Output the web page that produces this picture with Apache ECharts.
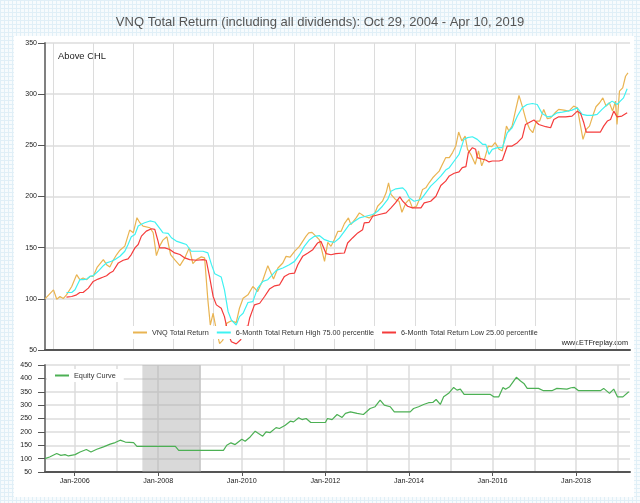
<!DOCTYPE html>
<html>
<head>
<meta charset="utf-8">
<title>VNQ Total Return</title>
<script src="https://cdn.jsdelivr.net/npm/echarts@6/dist/echarts.min.js"></script>
<style>
html, body { margin: 0; padding: 0; width: 640px; height: 503px; overflow: hidden; }
body {
    background-color: #f7fbfd;
    background-image:
        linear-gradient(#e0eff7 1px, transparent 1px),
        linear-gradient(90deg, #e0eff7 1px, transparent 1px);
    background-size: 4px 4px;
}
#panel { position: absolute; left: 14px; top: 36px; width: 620px; height: 461px; background: #fff; }
#chart { position: absolute; left: 0; top: 0; width: 640px; height: 503px; }
</style>
</head>
<body>
<div id="panel"></div>
<div id="chart"></div>
<script>
// x values are dates as decimal years
var topStart = 2004.83;      // Oct 29, 2004
var topEnd = 2019.27;        // Apr 10, 2019
var bottomStart = 2005.29;
var bottomEnd = 2019.29;

// vertical grid lines of the upper chart (about every 50 weeks)
var topGridYears = [2005.03, 2006.02, 2007.01, 2008.0, 2008.99, 2009.98, 2010.98,
    2011.97, 2012.96, 2013.96, 2014.95, 2015.94, 2016.94, 2017.93, 2018.92];
// lower chart: a grid line every January, a label every other year
var yearTicks = [2006, 2007, 2008, 2009, 2010, 2011, 2012, 2013, 2014, 2015,
    2016, 2017, 2018, 2019];
var labelYears = [2006, 2008, 2010, 2012, 2014, 2016, 2018];

// shaded period in the equity panel
var shadeFrom = 2007.62;
var shadeTo = 2009.02;

var vnqReturn = [
    [2004.83, 100], [2005.04, 108.8], [2005.12, 99.6], [2005.20, 102.3], [2005.28, 100.3],
    [2005.36, 103.9], [2005.49, 112.1], [2005.61, 123.6], [2005.69, 118.7], [2005.77, 120.3],
    [2005.86, 118.7], [2005.94, 121.9], [2006.02, 121.9], [2006.12, 131.1], [2006.27, 138.3],
    [2006.35, 133.4], [2006.43, 131.1], [2006.51, 137.4], [2006.60, 143.3], [2006.68, 147.5],
    [2006.80, 151.5], [2006.92, 167.2], [2007.01, 164.6], [2007.10, 179.3], [2007.17, 174.4],
    [2007.25, 171.1], [2007.42, 169.5], [2007.50, 164.6], [2007.58, 142.3], [2007.66, 151.5],
    [2007.74, 157.4], [2007.84, 160.6], [2007.93, 143.3], [2008.03, 138.3], [2008.16, 132.4],
    [2008.28, 140.0], [2008.39, 149.8], [2008.48, 134.4], [2008.57, 138.3], [2008.69, 141.0],
    [2008.77, 140.0], [2008.85, 99.0], [2008.91, 74.4], [2008.98, 85.9], [2009.06, 69.5],
    [2009.14, 56.3], [2009.22, 59.6], [2009.31, 76.0], [2009.43, 78.6], [2009.55, 76.7],
    [2009.63, 90.8], [2009.72, 100.6], [2009.84, 103.9], [2009.96, 112.1], [2010.08, 107.2],
    [2010.21, 118.7], [2010.33, 132.4], [2010.47, 119.3], [2010.58, 130.1], [2010.70, 135.0],
    [2010.78, 141.5], [2010.88, 140.8], [2010.99, 146.4], [2011.11, 151.3], [2011.19, 156.2],
    [2011.27, 161.1], [2011.34, 164.4], [2011.42, 165.0], [2011.52, 161.1], [2011.60, 157.8],
    [2011.73, 136.6], [2011.81, 155.2], [2011.89, 151.3], [2011.97, 157.8], [2012.06, 166.0],
    [2012.14, 166.0], [2012.22, 173.5], [2012.32, 179.1], [2012.38, 172.5], [2012.51, 179.1],
    [2012.59, 184.0], [2012.71, 180.7], [2012.83, 179.1], [2012.96, 182.4], [2013.04, 190.5],
    [2013.16, 195.4], [2013.25, 203.6], [2013.31, 213.4], [2013.37, 202.0], [2013.48, 197.1],
    [2013.57, 195.4], [2013.64, 184.6], [2013.74, 193.8], [2013.82, 197.1], [2013.90, 188.9],
    [2014.00, 190.5], [2014.07, 197.1], [2014.15, 206.9], [2014.23, 208.5], [2014.31, 213.4],
    [2014.40, 218.3], [2014.48, 221.6], [2014.56, 224.8], [2014.62, 229.7], [2014.72, 237.9],
    [2014.81, 238.0], [2014.89, 242.9], [2014.97, 249.3], [2015.04, 263.0], [2015.12, 254.2],
    [2015.20, 259.1], [2015.26, 246.1], [2015.34, 241.2], [2015.45, 231.5], [2015.53, 244.5],
    [2015.61, 229.9], [2015.69, 238.0], [2015.77, 249.3], [2015.86, 248.7], [2015.94, 252.6],
    [2016.04, 246.1], [2016.12, 244.5], [2016.22, 268.8], [2016.28, 263.9], [2016.36, 268.8],
    [2016.45, 285.1], [2016.53, 298.7], [2016.61, 288.3], [2016.71, 273.7], [2016.79, 266.2],
    [2016.87, 262.3], [2016.96, 273.7], [2017.04, 273.7], [2017.14, 285.1], [2017.23, 276.0],
    [2017.31, 276.9], [2017.42, 281.8], [2017.51, 285.1], [2017.64, 284.4], [2017.76, 283.4],
    [2017.88, 288.3], [2017.97, 286.7], [2018.05, 268.8], [2018.11, 255.8], [2018.19, 265.6],
    [2018.27, 268.8], [2018.35, 278.6], [2018.43, 287.7], [2018.52, 291.6], [2018.60, 296.4],
    [2018.68, 288.3], [2018.76, 291.6], [2018.84, 283.4], [2018.91, 293.2], [2018.95, 270.4],
    [2019.01, 302.9], [2019.09, 306.2], [2019.16, 317.5], [2019.22, 320.8]
];

var highBand = [
    [2005.36, 106.2], [2005.49, 106.2], [2005.57, 108.8], [2005.69, 118.7], [2005.77, 118.7],
    [2005.86, 119.3], [2005.94, 121.9], [2006.02, 122.6], [2006.14, 126.9], [2006.27, 132.4],
    [2006.35, 135.1], [2006.47, 136.7], [2006.55, 138.3], [2006.68, 141.6], [2006.80, 146.5],
    [2006.88, 153.1], [2006.96, 160.6], [2007.05, 162.9], [2007.13, 171.1], [2007.21, 172.8],
    [2007.29, 174.4], [2007.42, 176.1], [2007.54, 175.1], [2007.62, 171.1], [2007.74, 164.6],
    [2007.87, 163.9], [2007.95, 159.7], [2008.07, 156.4], [2008.20, 154.7], [2008.32, 153.1],
    [2008.44, 146.5], [2008.57, 146.5], [2008.73, 146.5], [2008.85, 144.9], [2008.94, 133.4],
    [2009.02, 124.6], [2009.18, 121.3], [2009.26, 108.8], [2009.35, 87.5], [2009.43, 79.3],
    [2009.55, 74.4], [2009.63, 82.6], [2009.72, 85.9], [2009.84, 96.4], [2009.96, 97.3],
    [2010.08, 110.5], [2010.21, 117.0], [2010.33, 118.7], [2010.54, 127.8], [2010.70, 130.1],
    [2010.86, 133.3], [2010.99, 136.6], [2011.11, 143.1], [2011.23, 151.3], [2011.36, 157.8],
    [2011.48, 161.1], [2011.60, 161.8], [2011.73, 157.8], [2011.85, 156.2], [2011.97, 155.2],
    [2012.10, 159.5], [2012.22, 166.0], [2012.34, 172.5], [2012.47, 175.8], [2012.59, 179.1],
    [2012.75, 180.7], [2012.92, 182.4], [2013.04, 185.6], [2013.16, 190.5], [2013.29, 197.1],
    [2013.37, 205.2], [2013.49, 207.5], [2013.66, 208.5], [2013.74, 205.2], [2013.82, 198.7],
    [2013.94, 195.4], [2014.11, 197.1], [2014.23, 203.6], [2014.35, 210.1], [2014.48, 215.0],
    [2014.60, 219.9], [2014.72, 225.8], [2014.81, 228.2], [2014.93, 234.7], [2015.05, 241.2],
    [2015.17, 255.8], [2015.26, 257.5], [2015.38, 258.4], [2015.50, 255.8], [2015.63, 251.0],
    [2015.71, 251.0], [2015.79, 241.2], [2015.87, 246.1], [2016.00, 247.7], [2016.12, 247.7],
    [2016.24, 262.3], [2016.36, 267.2], [2016.49, 278.6], [2016.61, 286.7], [2016.73, 289.9],
    [2016.86, 290.9], [2016.98, 289.9], [2017.10, 281.2], [2017.23, 277.9], [2017.35, 278.6],
    [2017.47, 281.8], [2017.60, 282.5], [2017.72, 283.4], [2017.84, 284.4], [2017.97, 286.7],
    [2018.09, 280.2], [2018.21, 279.2], [2018.34, 279.2], [2018.46, 280.2], [2018.58, 285.1],
    [2018.71, 289.9], [2018.83, 293.2], [2018.95, 289.9], [2019.03, 293.2], [2019.11, 296.4],
    [2019.20, 305.2]
];

var lowBand = [
    [2005.36, 101.6], [2005.49, 102.3], [2005.61, 103.9], [2005.69, 106.2], [2005.77, 106.2],
    [2005.90, 110.5], [2006.02, 117.0], [2006.14, 119.3], [2006.27, 121.3], [2006.35, 122.6],
    [2006.43, 125.2], [2006.51, 126.9], [2006.64, 135.1], [2006.76, 137.7], [2006.88, 139.0],
    [2006.96, 143.3], [2007.05, 149.8], [2007.13, 153.1], [2007.21, 161.3], [2007.33, 166.2],
    [2007.46, 168.5], [2007.54, 167.9], [2007.62, 156.4], [2007.66, 149.8], [2007.79, 149.8],
    [2007.91, 148.2], [2008.03, 144.9], [2008.16, 143.3], [2008.28, 140.0], [2008.40, 138.3],
    [2008.57, 137.7], [2008.73, 138.3], [2008.81, 137.7], [2008.89, 121.9], [2008.98, 102.3],
    [2009.06, 94.1], [2009.18, 90.8], [2009.26, 82.6], [2009.35, 66.0], [2009.43, 58.0],
    [2009.55, 56.0], [2009.66, 60.0], [2009.76, 72.7], [2009.84, 73.4], [2009.88, 81.0],
    [2010.00, 94.1], [2010.13, 95.7], [2010.25, 102.3], [2010.37, 109.5], [2010.50, 112.7],
    [2010.62, 113.7], [2010.74, 121.9], [2010.86, 124.5], [2010.99, 125.2], [2011.07, 133.3],
    [2011.19, 141.5], [2011.32, 144.8], [2011.44, 148.0], [2011.56, 154.6], [2011.64, 156.2],
    [2011.77, 144.1], [2011.89, 143.1], [2012.01, 144.1], [2012.22, 144.8], [2012.30, 154.6],
    [2012.42, 159.5], [2012.55, 164.4], [2012.67, 167.6], [2012.71, 174.2], [2012.83, 174.8],
    [2012.92, 180.7], [2013.08, 182.4], [2013.25, 184.0], [2013.37, 188.9], [2013.48, 193.8],
    [2013.59, 199.7], [2013.66, 195.4], [2013.78, 190.5], [2013.90, 188.9], [2014.11, 188.9],
    [2014.19, 193.8], [2014.35, 195.4], [2014.48, 200.3], [2014.60, 210.8], [2014.72, 215.0],
    [2014.81, 220.1], [2014.93, 222.7], [2015.05, 224.0], [2015.13, 228.2], [2015.22, 229.2],
    [2015.28, 242.9], [2015.38, 247.7], [2015.46, 246.1], [2015.50, 238.0], [2015.58, 237.0],
    [2015.71, 235.7], [2015.79, 233.8], [2015.87, 234.7], [2016.04, 234.7], [2016.12, 235.7],
    [2016.24, 249.3], [2016.36, 249.3], [2016.49, 252.6], [2016.61, 257.5], [2016.69, 270.4],
    [2016.77, 272.0], [2016.90, 274.7], [2017.02, 270.4], [2017.19, 268.2], [2017.31, 267.2],
    [2017.39, 275.3], [2017.51, 277.9], [2017.68, 277.9], [2017.84, 278.6], [2017.97, 283.4],
    [2018.05, 281.2], [2018.13, 272.0], [2018.19, 263.0], [2018.29, 263.0], [2018.42, 263.0],
    [2018.54, 263.0], [2018.62, 268.8], [2018.71, 273.7], [2018.79, 275.3], [2018.87, 283.4],
    [2018.95, 277.9], [2019.07, 278.6], [2019.20, 281.8]
];

var equityCurve = [
    [2005.29, 100], [2005.40, 106], [2005.57, 119], [2005.67, 112], [2005.77, 115],
    [2005.85, 110], [2006.01, 115], [2006.13, 125], [2006.28, 134], [2006.39, 125],
    [2006.53, 135], [2006.69, 144], [2006.85, 154], [2006.97, 160], [2007.09, 169],
    [2007.21, 162], [2007.41, 160], [2007.49, 146], [2008.41, 146], [2008.49, 131],
    [2009.56, 131], [2009.64, 150], [2009.74, 159], [2009.84, 152.5], [2010.00, 172.5],
    [2010.08, 165], [2010.20, 181], [2010.32, 202.5], [2010.40, 194], [2010.50, 184],
    [2010.58, 200], [2010.68, 197.5], [2010.82, 216], [2010.90, 212.5], [2011.04, 225],
    [2011.16, 240], [2011.24, 237.5], [2011.36, 252.5], [2011.44, 246], [2011.54, 250],
    [2011.65, 235], [2012.00, 235], [2012.05, 250], [2012.16, 246], [2012.28, 265],
    [2012.40, 254], [2012.48, 269], [2012.60, 275], [2012.76, 269], [2012.91, 265],
    [2013.07, 287.5], [2013.19, 294], [2013.31, 319], [2013.41, 300], [2013.55, 294],
    [2013.65, 275], [2014.03, 275], [2014.11, 287.5], [2014.23, 294], [2014.35, 302.5],
    [2014.47, 309], [2014.57, 310], [2014.65, 321], [2014.75, 302.5], [2014.83, 331],
    [2014.95, 344], [2015.07, 366], [2015.15, 356], [2015.23, 360], [2015.32, 340],
    [2015.95, 340], [2016.03, 331], [2016.15, 331], [2016.25, 366], [2016.31, 359],
    [2016.41, 369], [2016.57, 404], [2016.67, 390], [2016.75, 381], [2016.83, 362.5],
    [2017.10, 362.5], [2017.22, 354], [2017.42, 354], [2017.54, 362.5], [2017.78, 360],
    [2017.88, 365], [2017.96, 366], [2018.06, 354], [2018.58, 354], [2018.66, 362.5],
    [2018.80, 344], [2018.90, 360], [2018.99, 331], [2019.12, 331], [2019.26, 350]
];

var FONT = '"Liberation Sans", Arial, Helvetica, sans-serif';
var AXIS_COLOR = '#555';
var YLINE_COLOR = '#808080';
var GRID_COLOR = '#dcdcdc';

function lineSeries(name, data, color, axisIndex) {
    return {
        name: name,
        type: 'line',
        xAxisIndex: axisIndex,
        yAxisIndex: axisIndex,
        data: data,
        showSymbol: false,
        symbol: 'none',
        smooth: false,
        lineStyle: { color: color, width: 1.2 },
        itemStyle: { color: color },
        emphasis: { disabled: true }
    };
}

function yAxis(gridIndex, max, labelMargin) {
    return {
        gridIndex: gridIndex,
        type: 'value',
        min: 50,
        max: max,
        interval: 50,
        axisLine: { show: true, lineStyle: { color: YLINE_COLOR, width: 2 } },
        axisTick: { show: true, length: 7, lineStyle: { color: AXIS_COLOR } },
        axisLabel: { fontSize: 7, color: '#222', margin: labelMargin, fontFamily: FONT },
        splitLine: { show: true, lineStyle: { color: GRID_COLOR, width: 1.5 } }
    };
}

var chart = echarts.init(document.getElementById('chart'), null, { renderer: 'canvas' });

var vnqName = 'VNQ Total Return';
var highName = '6-Month Total Return High 75.00 percentile';
var lowName = '6-Month Total Return Low 25.00 percentile';
var equityName = 'Equity Curve';

var equity = lineSeries(equityName, equityCurve, '#4cb054', 1);
equity.markArea = {
    silent: true,
    itemStyle: { color: 'rgba(170,170,170,0.45)' },
    data: [[{ xAxis: shadeFrom }, { xAxis: shadeTo }]]
};

chart.setOption({
    animation: false,
    backgroundColor: 'transparent',
    textStyle: { fontFamily: FONT },
    title: {
        text: 'VNQ Total Return (including all dividends): Oct 29, 2004 - Apr 10, 2019',
        left: 'center',
        top: 11,
        textStyle: { fontSize: 13, fontWeight: 'normal', color: '#555', fontFamily: FONT }
    },
    grid: [
        { left: 45, top: 43, width: 585, height: 307 },
        { left: 45, top: 365, width: 585, height: 107 }
    ],
    xAxis: [
        {
            gridIndex: 0,
            type: 'value',
            min: topStart,
            max: topEnd,
            axisLine: { onZero: false, lineStyle: { color: AXIS_COLOR, width: 2 } },
            axisTick: { show: false, customValues: topGridYears },
            axisLabel: { show: false },
            splitLine: { show: true, lineStyle: { color: GRID_COLOR } }
        },
        {
            gridIndex: 1,
            type: 'value',
            min: bottomStart,
            max: bottomEnd,
            axisLine: { onZero: false, lineStyle: { color: AXIS_COLOR, width: 2 } },
            axisTick: { show: true, length: 4, customValues: labelYears, lineStyle: { color: AXIS_COLOR } },
            axisLabel: {
                customValues: labelYears,
                fontSize: 7.2,
                color: '#222',
                margin: 6,
                fontFamily: FONT,
                formatter: function (v) { return 'Jan-' + Math.round(v); }
            },
            splitLine: { show: false }
        },
        {
            // yearly grid lines only
            gridIndex: 1,
            type: 'value',
            min: bottomStart,
            max: bottomEnd,
            axisLine: { show: false },
            axisTick: { show: false, customValues: yearTicks },
            axisLabel: { show: false },
            splitLine: { show: true, lineStyle: { color: GRID_COLOR, width: 1.5 } }
        }
    ],
    yAxis: [yAxis(0, 350, 8), yAxis(1, 450, 13)],
    legend: [
        {
            data: [vnqName, highName, lowName],
            left: 129,
            top: 326,
            icon: 'rect',
            itemWidth: 14,
            itemHeight: 2,
            itemGap: 8,
            padding: [3, 4],
            backgroundColor: '#fff',
            selectedMode: false,
            textStyle: { fontSize: 7.25, color: '#333', fontFamily: FONT }
        },
        {
            data: [equityName],
            left: 47,
            top: 369,
            icon: 'rect',
            itemWidth: 14,
            itemHeight: 2,
            padding: [3, 8],
            backgroundColor: '#fff',
            selectedMode: false,
            textStyle: { fontSize: 7.3, color: '#333', fontFamily: FONT }
        }
    ],
    graphic: [
        {
            type: 'text',
            left: 58,
            top: 52,
            style: { text: 'Above CHL', fontSize: 9.4, fill: '#222', fontFamily: FONT }
        },
        {
            type: 'text',
            right: 12,
            top: 339,
            style: { text: 'www.ETFreplay.com', fontSize: 7.3, fill: '#222', fontFamily: FONT }
        }
    ],
    series: [
        lineSeries(vnqName, vnqReturn, '#e9b452', 0),
        lineSeries(highName, highBand, '#3ff2f2', 0),
        lineSeries(lowName, lowBand, '#f53b3b', 0),
        equity
    ]
});
</script>
</body>
</html>
